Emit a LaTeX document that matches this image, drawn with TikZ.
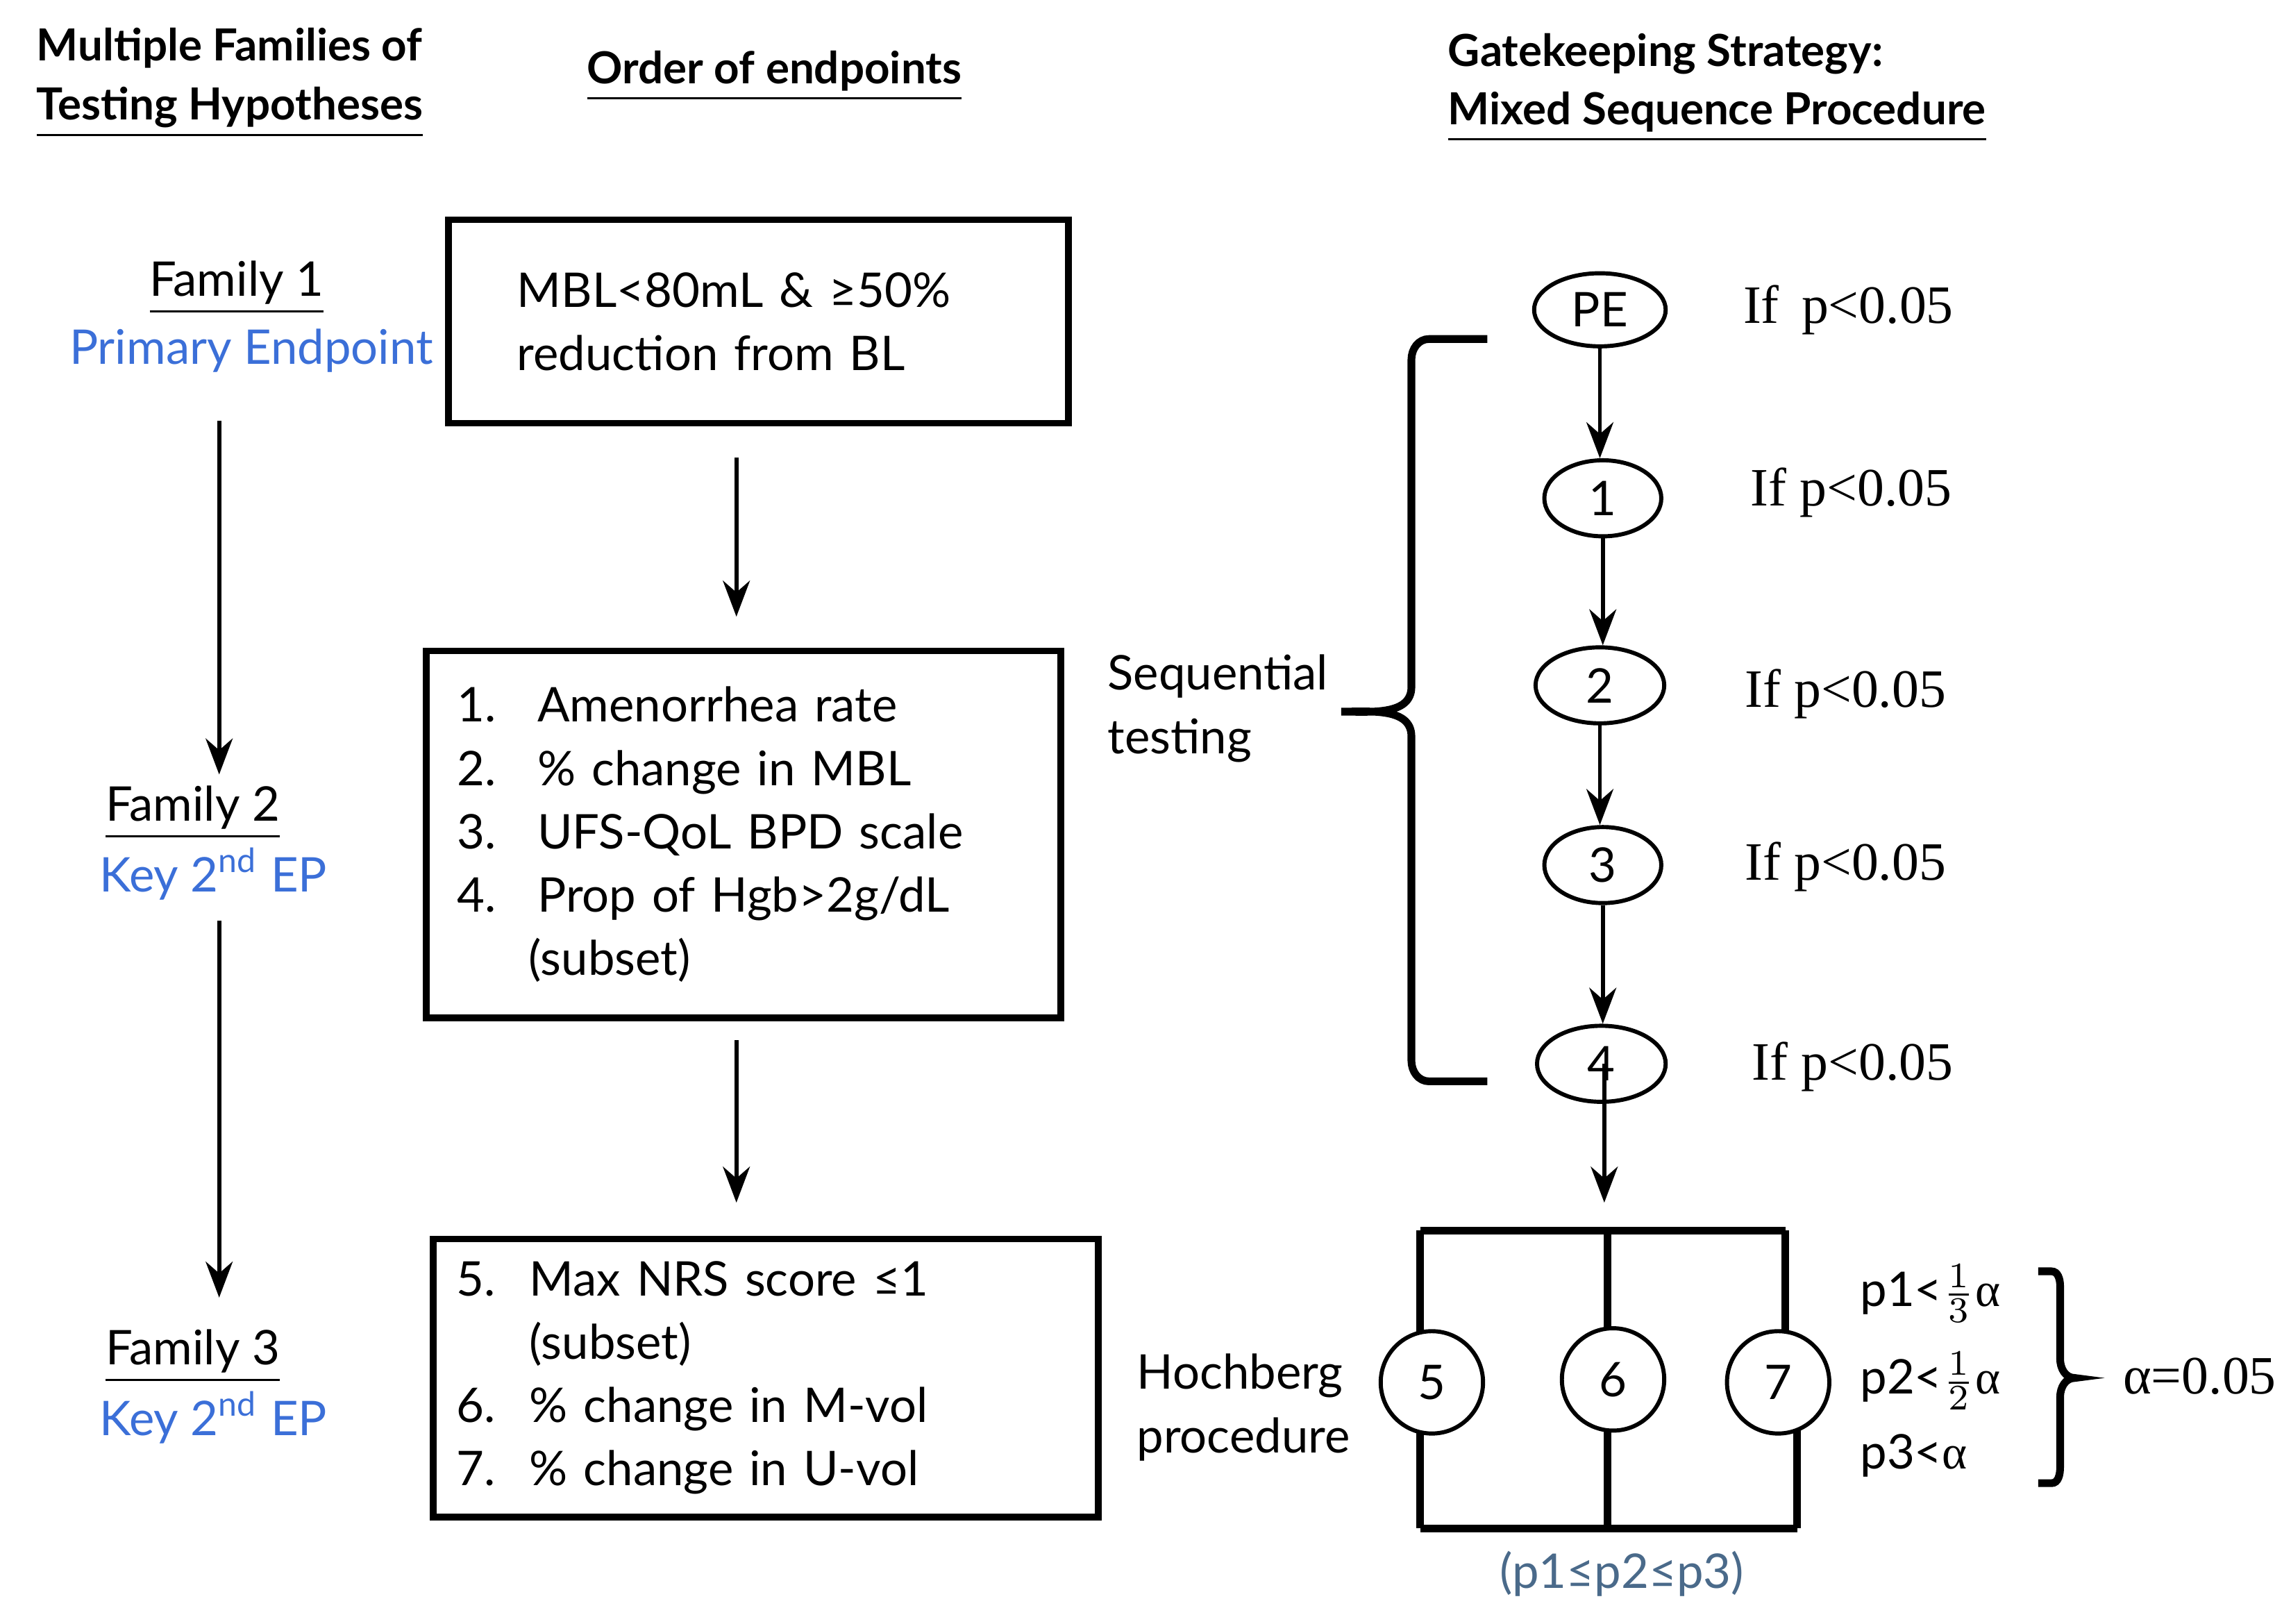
\documentclass[tikz,border=0pt]{standalone}
\usepackage{fontspec}
\setmainfont{Lato}
\newfontfamily\srf{Liberation Serif}
\usetikzlibrary{shapes.geometric,arrows.meta}

\definecolor{fblue}{HTML}{3B6FD8}
\definecolor{gblue}{HTML}{4A6A8A}

\begin{document}
\begin{tikzpicture}[x=0.01cm, y=-0.01cm, thick,
    >={Stealth[length=7pt]},
    box/.style = {draw, line width=1.3pt, align=left, font=\fontsize{9.3}{12.3}\selectfont},
    hyp/.style = {draw, ellipse, fill=white, font=\fontsize{9.3}{11}\selectfont, inner sep=0pt},
    pval/.style = {anchor=west, font=\srf\fontsize{10.5}{12}\selectfont},
    head/.style = {font=\bfseries\fontsize{8.6}{10}\selectfont},
    fam/.style = {font=\fontsize{9.3}{11}\selectfont},
    lbl/.style = {anchor=west, align=left, font=\fontsize{9.3}{12.4}\selectfont}]
  \useasboundingbox (0,0) rectangle (1568,1111);

  % headers
  \node[head, anchor=west] (h1) at (12,33) {Multiple Families of};
  \node[head, anchor=west] (h2) at (12,77) {\underline{Testing Hypotheses}};
  \node[head] (h3) at (530,52) {\underline{Order of endpoints}};
  \node[head, anchor=west] (h4) at (978,37) {Gatekeeping Strategy:};
  \node[head, anchor=west] (h5) at (978,80) {\underline{Mixed Sequence Procedure}};

  % families
  \node[fam] (f1) at (162,197) {\underline{Family 1}};
  \node[fam, text=fblue] (f1b) at (172,240) {Primary Endpoint};
  \node[fam] (f2) at (132,556) {\underline{Family 2}};
  \node[fam, text=fblue] (f2b) at (146,598) {Key 2\textsuperscript{nd} EP};
  \node[fam] (f3) at (132,928) {\underline{Family 3}};
  \node[fam, text=fblue] (f3b) at (146,970) {Key 2\textsuperscript{nd} EP};
  \coordinate (a1) at (150,288);
  \coordinate (a2) at (150,530);
  \coordinate (a3) at (150,630);
  \coordinate (a4) at (150,888);
  \draw[->] (a1) -- (a2);
  \draw[->] (a3) -- (a4);

  % endpoint boxes
  \node[box, minimum width=4.16cm, minimum height=1.39cm, text width=3.3cm, inner xsep=0.47cm] (b1) at (519,220)
    {MBL<80mL \& ≥50\%\\reduction from BL};
  \node[box, minimum width=4.34cm, minimum height=2.51cm, text width=3.92cm, inner xsep=0.21cm] (b2) at (509,571)
    {\makebox[0.55cm][l]{1.}Amenorrhea rate\\
     \makebox[0.55cm][l]{2.}\% change in MBL\\
     \makebox[0.55cm][l]{3.}UFS-QoL BPD scale\\
     \makebox[0.55cm][l]{4.}Prop of Hgb>2g/dL\\
     \makebox[0.49cm][l]{}(subset)};
  \node[box, minimum width=4.55cm, minimum height=1.9cm, text width=4.23cm, inner xsep=0.16cm] (b3) at (524,943)
    {\makebox[0.5cm][l]{5.}Max NRS score ≤1\\
     \makebox[0.5cm][l]{}(subset)\\
     \makebox[0.5cm][l]{6.}\% change in M-vol\\
     \makebox[0.5cm][l]{7.}\% change in U-vol};
  \draw[->] (504,313) -- (504,422);
  \draw[->] (504,712) -- (504,823);

  % sequential part
  \node[lbl] (seq) at (745,485) {Sequential\\testing};
  \node[hyp, minimum width=0.9cm, minimum height=0.5cm] (pe) at (1095,212) {PE};
  \node[hyp, minimum width=0.8cm, minimum height=0.52cm] (e1) at (1097,341) {1};
  \node[hyp, minimum width=0.88cm, minimum height=0.52cm] (e2) at (1095,469) {2};
  \node[hyp, minimum width=0.8cm, minimum height=0.52cm] (e3) at (1097,592) {3};
  \node[hyp, minimum width=0.88cm, minimum height=0.52cm] (e4) at (1096,728) {4};
  \node[pval] (p0) at (1180,212) {If\, p<0.05};
  \node[pval] (p1) at (1185,337) {If p<0.05};
  \node[pval] (p2) at (1181,475) {If p<0.05};
  \node[pval] (p3) at (1181,593) {If p<0.05};
  \node[pval] (p4) at (1186,730) {If p<0.05};
  \draw[->] (pe) -- (pe |- e1.north);
  \draw[->] (e1) -- (e1 |- e2.north);
  \draw[->] (e2) -- (e2 |- e3.north);
  \draw[->] (e3) -- (e3 |- e4.north);
  \coordinate (hb) at (1098,823);
  \draw[->] (e4 -| hb) -- (hb);
  \draw[line width=1.5pt] (1018,232) -- (978,232) to[out=180,in=90] (966,246) -- (966,470)
    to[out=-90,in=0] (918,487) to[out=0,in=90] (966,504) -- (966,726)
    to[out=-90,in=180] (978,740) -- (1018,740);

  % Hochberg part
  \node[lbl] (hoch) at (765,963) {Hochberg\\procedure};
  \draw[line width=1.5pt] (972,842) -- (1222,842) (972,1046) -- (1230,1046)
    (972,842) -- (972,1046) (1100,842) -- (1100,1046)
    (1222,842) -- (1222,946) (1230,946) -- (1230,1046);
  \node[hyp, circle, minimum size=0.7cm] (e5) at (980,946) {5};
  \node[hyp, circle, minimum size=0.7cm] (e6) at (1104,944) {6};
  \node[hyp, circle, minimum size=0.7cm] (e7) at (1217,946) {7};
  \node[lbl] (q1) at (1260,885) {p1<$\frac{1}{3}${\srf α}};
  \node[lbl] (q2) at (1260,945) {p2<$\frac{1}{2}${\srf α}};
  \node[lbl] (q3) at (1260,996) {p3<{\srf α}};
  \draw[line width=1.5pt] (1395,870) -- (1404,870) to[out=0,in=90] (1410,880) -- (1410,930)
    to[out=-90,in=180] (1420,943) to[out=180,in=90] (1410,956) -- (1410,1004)
    to[out=-90,in=0] (1404,1015) -- (1395,1015);
  \node[pval] (al) at (1440,942) {α=0.05};
  \node[fam, text=gblue] (ord) at (1110,1077) {(p1≤p2≤p3)};
\end{tikzpicture}
\end{document}
